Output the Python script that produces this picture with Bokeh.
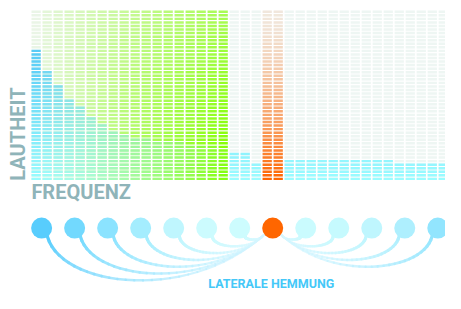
import numpy as np
from bokeh.plotting import figure
from bokeh.models import Range1d, ColumnDataSource
from bokeh.embed import file_html
from bokeh.resources import INLINE
from bokeh.core.properties import value

# ---------------- data ----------------
n_cols = 38          # frequency channels
n_rows = 48          # loudness steps
loudness = [37, 31, 27, 23, 21, 18, 16, 14, 13, 12, 12, 11, 11, 11, 10, 10, 10, 9,
            8, 8, 5,
            48, 48,
            6, 6, 6, 6, 6, 6, 6, 6, 6, 6,
            5, 5, 5, 5, 5]
band = ["green"] * 18 + ["grey"] * 3 + ["orange"] * 2 + ["grey"] * 15
neuron_colors = ["#58cdfd", "#72d9fe", "#8be3ff", "#a4edfe", "#bff6fe", "#ccfbfe",
                 "#cdfcfe", "#ff6600", "#cafbfe", "#c6fafe", "#bff6fe", "#aeeffe",
                 "#92e5fe"]
active_neuron = 7
label_y = "LAUTHEIT"
label_x = "FREQUENZ"
label_inh = "LATERALE HEMMUNG"

# ---------------- layout helpers (reference pixel space) ----------------
PX0, PX_STEP = 36.9, 11.4     # column centre / pitch
BASE, PY_STEP = 190.0, 3.75   # bottom of the bars / row pitch


def fx(px):
    return (px - PX0) / PX_STEP


def fy(py):
    return (BASE - py) / PY_STEP


def rgb(h):
    h = h.lstrip("#")
    return np.array([int(h[i:i + 2], 16) for i in (0, 2, 4)], dtype=float)


def mix(a, b, t):
    c = rgb(a) * (1 - t) + rgb(b) * t
    return "#%02x%02x%02x" % tuple(int(round(v)) for v in np.clip(c, 0, 255))


p = figure(width=445, height=293, output_backend="svg", toolbar_location=None,
           x_range=Range1d(fx(0), fx(461)), y_range=Range1d(fy(309), fy(0)),
           x_axis_location=None, y_axis_location=None, min_border=0,
           background_fill_color="white", border_fill_color="white")
p.outline_line_color = None
p.grid.visible = False

# ---------------- background cells ----------------
bx, by, bc = [], [], []
for c in range(n_cols):
    for k in range(n_rows):
        r = k / (n_rows - 1)
        if band[c] == "green":
            t = c / 17.0
            a = (0.06 + 0.94 * t ** 0.85) * (1 - 0.35 * r ** 1.3)
            col = mix("#eef5f0", "#84ff00", a)
        elif band[c] == "orange":
            col = "#f0f2ee"
        else:
            col = "#eef6f3"
        bx.append(c)
        by.append(k + 0.5)
        bc.append(col)
p.rect(x="x", y="y", width=0.84, height=0.69, fill_color="c", line_color=None,
       source=ColumnDataSource(dict(x=bx, y=by, c=bc)))

# ---------------- loudness bars ----------------
ox, oy, oc, oa = [], [], [], []
for c in range(n_cols):
    for k in range(loudness[c]):
        if band[c] == "orange":
            r = k / (n_rows - 1)
            col = "#ff6600"
            a = 0.07 + 0.93 * (1 - r) ** 1.4
        else:
            s = min(k / 38.0, 1.0)
            col = mix("#96fcff", "#4fc6f6", s)
            a = 0.97 - 0.9 * (c / 17.0) ** 0.7 if band[c] == "green" else 0.95
        ox.append(c)
        oy.append(k + 0.5)
        oc.append(col)
        oa.append(a)
p.rect(x="x", y="y", width=0.84, height=0.69, fill_color="c", fill_alpha="a",
       line_color=None, source=ColumnDataSource(dict(x=ox, y=oy, c=oc, a=oa)))

# ---------------- lateral inhibition diagram ----------------
NY = 240.0
nx_px = [PX0 + PX_STEP * (3 * i + 0.5) for i in range(len(neuron_colors))]
xo = nx_px[active_neuron]
xs, ys, lc, lw, la = [], [], [], [], []
tt = np.linspace(0, 1, 31)
for i, xn in enumerate(nx_px):
    if i == active_neuron:
        continue
    d = abs(i - active_neuron)
    sgn = 1 if i < active_neuron else -1
    L = abs(xo - xn)
    D = 7.5 * d + 3
    P0 = np.array([xn + sgn * 6, 249])
    P1 = np.array([xn + sgn * 0.09 * L, NY + 1.15 * D])
    P2 = np.array([xo - sgn * 0.35 * L, NY + 1.4 * D])
    P3 = np.array([xo - sgn * 9, 247])
    pts = [((1 - t) ** 3) * P0 + 3 * ((1 - t) ** 2) * t * P1 + 3 * (1 - t) * t * t * P2 + t ** 3 * P3
           for t in tt]
    for j in range(len(pts) - 1):
        t = tt[j]
        xs.append([fx(pts[j][0]), fx(pts[j + 1][0])])
        ys.append([fy(pts[j][1]), fy(pts[j + 1][1])])
        lc.append(mix(neuron_colors[i], "#d6f6ff", t ** 0.8))
        lw.append(3.2 - 1.4 * t)
        la.append(1.0 - 0.5 * t)
p.multi_line(xs="xs", ys="ys", line_color="c", line_width="w", line_alpha="a",
             line_cap="round",
             source=ColumnDataSource(dict(xs=xs, ys=ys, c=lc, w=lw, a=la)))

p.scatter(x=[fx(v) for v in nx_px], y=[fy(NY)] * len(nx_px), size=21,
          fill_color=neuron_colors, line_color=None)

# ---------------- texts ----------------
p.text(x=[fx(25.5)], y=[fy(190)], text=[label_y], angle=np.pi / 2, x_offset=-7,
       text_font=value("Roboto"), text_font_style="bold", text_font_size="20px",
       text_color="#8fb4b9", text_align="left", text_baseline="alphabetic")
p.text(x=[fx(32)], y=[fy(209.5)], text=[label_x], y_offset=-7,
       text_font=value("Roboto"), text_font_style="bold", text_font_size="20px",
       text_color="#8fb4b9", text_align="left", text_baseline="alphabetic")
p.text(x=[fx(280.5)], y=[fy(306)], text=[label_inh], y_offset=-7,
       text_font=value("Roboto"), text_font_style="bold", text_font_size="12.5px",
       text_color="#45c8f8", text_align="center", text_baseline="alphabetic")

open("out.html", "w").write(file_html(p, INLINE))
